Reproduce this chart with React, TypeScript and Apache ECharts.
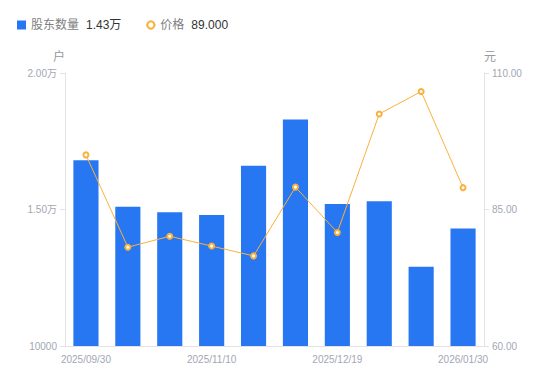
import React, { useEffect, useRef } from "react";
import * as echarts from "echarts";

const categories = [
  "2025/09/30", "2025/10/20", "2025/10/31", "2025/11/10", "2025/11/20",
  "2025/11/30", "2025/12/19", "2025/12/31", "2026/01/20", "2026/01/30",
];
const holders = [16800, 15100, 14900, 14800, 16600, 18300, 15200, 15300, 12900, 14300];
const prices = [95.0, 78.1, 80.1, 78.3, 76.5, 89.1, 80.8, 102.5, 106.6, 89.0];
const leftTicks = { min: 10000, max: 20000, interval: 5000 };
const rightTicks = { min: 60, max: 110, interval: 25 };

const FONT = "'Liberation Sans', Arial, 'Noto Sans CJK SC', sans-serif";
const LABEL = "#a3a6b4";

export default function App() {
  const ref = useRef<HTMLDivElement>(null);
  useEffect(() => {
    if (!ref.current) return;
    const chart = echarts.init(ref.current, undefined, { renderer: "svg" });
    const lastH = holders[holders.length - 1];
    const lastP = prices[prices.length - 1];
    chart.setOption({
      animation: false,
      textStyle: { fontFamily: FONT },
      legend: {
        left: 4,
        top: 6,
        itemWidth: 9,
        itemHeight: 9,
        itemGap: 24,
        data: [
          { name: "股东数量", icon: "rect" },
          { name: "价格" },
        ],
        formatter: (name: string) =>
          name === "股东数量"
            ? `{a|${name}}{b|${(lastH / 10000).toFixed(2)}万}`
            : `{a|${name}}{b|${lastP.toFixed(3)}}`,
        textStyle: {
          fontSize: 12,
          rich: {
            a: { color: "#808080", fontSize: 12, fontFamily: FONT },
            b: { color: "#333333", fontSize: 12, fontFamily: FONT, padding: [0, 0, 0, 7] },
          },
        },
      },
      grid: { left: 57, right: 74, top: 65, bottom: 43 },
      xAxis: {
        type: "category",
        data: categories,
        axisLine: { lineStyle: { color: "#e3e3e6" } },
        axisTick: { show: false },
        axisLabel: { interval: 2, color: LABEL, fontSize: 10, margin: 8 },
      },
      yAxis: [
        {
          type: "value",
          name: "户",
          nameGap: 10,
          nameTextStyle: { color: "#999", fontSize: 12, align: "right" },
          min: leftTicks.min,
          max: leftTicks.max,
          interval: leftTicks.interval,
          axisLine: { show: true, lineStyle: { color: "#e3e3e6" } },
          axisTick: { show: true, length: 5, lineStyle: { color: "#e3e3e6" } },
          splitLine: { show: false },
          axisLabel: {
            color: LABEL,
            fontSize: 10,
            formatter: (v: number) => (v > 10000 ? (v / 10000).toFixed(2) + "万" : String(v)),
          },
        },
        {
          type: "value",
          name: "元",
          nameGap: 10,
          nameTextStyle: { color: "#999", fontSize: 12, align: "left" },
          min: rightTicks.min,
          max: rightTicks.max,
          interval: rightTicks.interval,
          position: "right",
          axisLine: { show: true, lineStyle: { color: "#e3e3e6" } },
          axisTick: { show: true, length: 5, lineStyle: { color: "#e3e3e6" } },
          splitLine: { show: false },
          axisLabel: {
            color: LABEL,
            fontSize: 10,
            formatter: (v: number) => v.toFixed(2),
          },
        },
      ],
      series: [
        {
          name: "股东数量",
          type: "bar",
          data: holders,
          barWidth: "60%",
          itemStyle: { color: "#2777f2" },
        },
        {
          name: "价格",
          type: "line",
          yAxisIndex: 1,
          data: prices,
          symbol: "emptyCircle",
          symbolSize: 5,
          lineStyle: { color: "#fbb03b", width: 1 },
          itemStyle: { color: "#fbb03b", borderWidth: 2 },
        },
      ],
    });
    return () => chart.dispose();
  }, []);
  return <div ref={ref} style={{ width: 550, height: 381 }} />;
}
